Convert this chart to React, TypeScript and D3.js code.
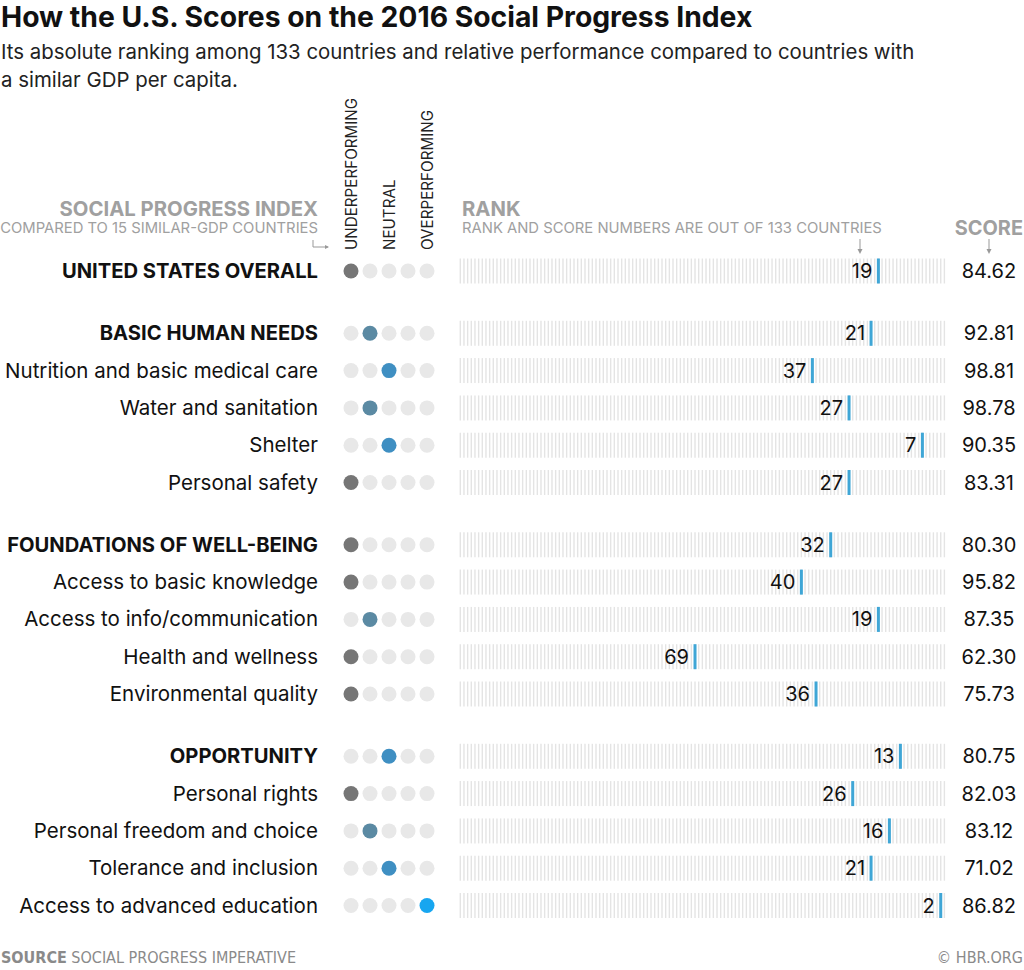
import React from "react";
import * as d3 from "d3";

const labels = [
  "UNITED STATES OVERALL",
  "BASIC HUMAN NEEDS",
  "Nutrition and basic medical care",
  "Water and sanitation",
  "Shelter",
  "Personal safety",
  "FOUNDATIONS OF WELL-BEING",
  "Access to basic knowledge",
  "Access to info/communication",
  "Health and wellness",
  "Environmental quality",
  "OPPORTUNITY",
  "Personal rights",
  "Personal freedom and choice",
  "Tolerance and inclusion",
  "Access to advanced education",
];
const isHeader = [true, true, false, false, false, false, true, false, false, false, false, true, false, false, false, false];
const groupIdx = [0, 1, 1, 1, 1, 1, 2, 2, 2, 2, 2, 3, 3, 3, 3, 3];
// 0 = underperforming ... 2 = neutral ... 4 = overperforming
const performance = [0, 1, 2, 1, 2, 0, 0, 0, 1, 0, 0, 2, 0, 1, 2, 4];
const ranks = [19, 21, 37, 27, 7, 27, 32, 40, 19, 69, 36, 13, 26, 16, 21, 2];
const scores = ["84.62", "92.81", "98.81", "98.78", "90.35", "83.31", "80.30", "95.82", "87.35", "62.30", "75.73", "80.75", "82.03", "83.12", "71.02", "86.82"];
const perfLabels = ["UNDERPERFORMING", "NEUTRAL", "OVERPERFORMING"];
const perfLabelIdx = [0, 2, 4];
const TOTAL = 133;

const dotColors = ["#767676", "#5b8aa3", "#3f8fc2", "#2a9ad8", "#17a6f0"];
const FONT = "Inter, 'Open Sans', sans-serif";
const NARROW = "'Liberation Sans Narrow', 'DejaVu Sans Condensed', Roboto, sans-serif";

export default function App() {
  const W = 1024, H = 970;
  const rowY = (i: number) => 271 + i * 37.3 + groupIdx[i] * 25;
  const rankX = d3.scaleLinear().domain([1, TOTAL]).range([944.4, 460.3]);
  const dotX = d3.scaleLinear().domain([0, 4]).range([351, 427]);
  const allRanks = d3.range(1, TOTAL + 1);
  const labelRight = 318;

  return (
    <svg width={W} height={H} style={{ position: "absolute", left: 0, top: 0, background: "#fff" }} fontFamily={FONT}>
      <text x={1} y={27} fontSize={28.3} fontWeight={700} fill="#111">How the U.S. Scores on the 2016 Social Progress Index</text>
      <text x={1} y={59} fontSize={20.4} fill="#222">Its absolute ranking among 133 countries and relative performance compared to countries with</text>
      <text x={1} y={87} fontSize={20.4} fill="#222">a similar GDP per capita.</text>

      {/* left header */}
      <text x={labelRight} y={216} textAnchor="end" fontSize={20.3} fontWeight={700} fill="#a0a0a0">SOCIAL PROGRESS INDEX</text>
      <text x={labelRight} y={233} textAnchor="end" fontSize={14.8} fill="#a0a0a0">COMPARED TO 15 SIMILAR-GDP COUNTRIES</text>
      <path d="M313,240 V247 H328" fill="none" stroke="#999" strokeWidth={1} />
      <path d="M325,245 L329,247 L325,249 Z" fill="#999" />

      {perfLabels.map((l, k) => (
        <text key={l} transform={`translate(${dotX(perfLabelIdx[k]) + 5.5},250) rotate(-90)`} fontSize={15.2} fill="#222">{l}</text>
      ))}

      {/* rank header */}
      <text x={462} y={216} fontSize={20.3} fontWeight={700} fill="#a0a0a0">RANK</text>
      <text x={462} y={233} fontSize={14.8} fill="#a0a0a0">RANK AND SCORE NUMBERS ARE OUT OF 133 COUNTRIES</text>
      <line x1={860} x2={860} y1={239} y2={251} stroke="#999" strokeWidth={1} />
      <path d="M857.5,249 L860,254 L862.5,249 Z" fill="#999" />

      <text x={1023} y={235} textAnchor="end" fontSize={19.9} fontWeight={700} fill="#a0a0a0">SCORE</text>
      <line x1={989} x2={989} y1={239} y2={251} stroke="#999" strokeWidth={1} />
      <path d="M986.5,249 L989,254 L991.5,249 Z" fill="#999" />

      {labels.map((lab, i) => {
        const y = rowY(i);
        return (
          <g key={lab}>
            <text x={labelRight} y={y + 7} textAnchor="end" fontSize={isHeader[i] ? 20.2 : 20.5} fontWeight={isHeader[i] ? 700 : 400} fill="#111">{lab}</text>
            {d3.range(5).map((k) => (
              <circle key={k} cx={dotX(k)} cy={y} r={7.5} fill={k === performance[i] ? dotColors[performance[i]] : "#e8e8e8"} />
            ))}
            {allRanks.map((r) => (
              <line key={r} x1={rankX(r)} x2={rankX(r)} y1={y - 12.5} y2={y + 12.5} stroke="#e4e4e4" strokeWidth={1.4} />
            ))}
            <rect x={rankX(ranks[i]) - 1.5} y={y - 12.5} width={3} height={25} fill="#3fa6d6" />
            <text x={rankX(ranks[i]) - 6} y={y + 7} textAnchor="end" fontSize={20} fill="#111">{ranks[i]}</text>
            <text x={989} y={y + 7} textAnchor="middle" fontSize={20} fill="#111">{scores[i]}</text>
          </g>
        );
      })}

      <text x={1} y={963} fontSize={16} fontFamily={NARROW} fill="#8a8a8a">
        <tspan fontWeight={700}>SOURCE</tspan>
        <tspan> SOCIAL PROGRESS IMPERATIVE</tspan>
      </text>
      <text x={1023} y={963} textAnchor="end" fontSize={16} fontFamily={NARROW} fill="#8a8a8a">© HBR.ORG</text>
    </svg>
  );
}
